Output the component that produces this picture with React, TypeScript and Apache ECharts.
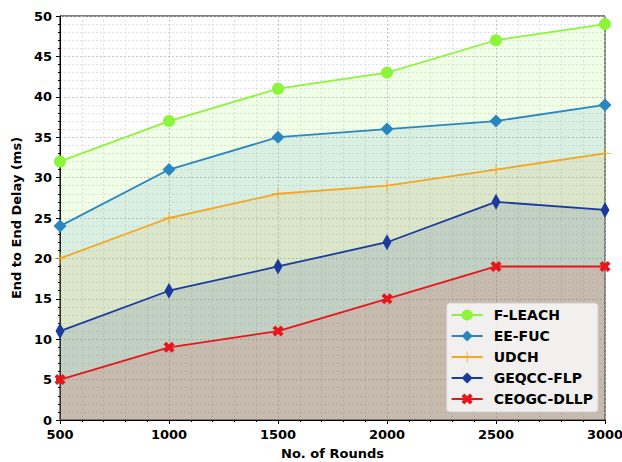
import React, { useEffect, useRef } from "react";
import * as echarts from "echarts";

const rounds = [500, 1000, 1500, 2000, 2500, 3000];
const seriesNames = ["F-LEACH", "EE-FUC", "UDCH", "GEQCC-FLP", "CEOGC-DLLP"];
const fLeach = [32, 37, 41, 43, 47, 49];
const eeFuc = [24, 31, 35, 36, 37, 39];
const udch = [20, 25, 28, 29, 31, 33];
const geqcc = [11, 16, 19, 22, 27, 26];
const ceogc = [5, 9, 11, 15, 19, 19];

const colors = ["#8cf53a", "#2a86bf", "#f5a623", "#1b3a9c", "#e8151b"];
const symbols = [
  "circle",
  "diamond",
  "path://M-0.07,-1H0.07V-0.07H1V0.07H0.07V1H-0.07V0.07H-1V-0.07H-0.07Z",
  "path://M0,-1L0.4,0L0,1L-0.4,0Z",
  "path://M-1,-0.5L-0.5,-1L0,-0.5L0.5,-1L1,-0.5L0.5,0L1,0.5L0.5,1L0,0.5L-0.5,1L-1,0.5L-0.5,0Z",
];
const symbolSizes: any[] = [12, 13, 12, [9, 16], 11];

export default function App() {
  const ref = useRef<HTMLDivElement>(null);
  useEffect(() => {
    const chart = echarts.init(ref.current!, null, { renderer: "svg" });
    const data = [fLeach, eeFuc, udch, geqcc, ceogc];
    const font = "DejaVu Sans";
    chart.setOption({
      animation: false,
      textStyle: { fontFamily: font },
      grid: {
        left: 60,
        right: 17,
        top: 16,
        bottom: 42,
        outerBoundsMode: "none",
        containLabel: false,
        show: true,
        borderColor: "#000",
        borderWidth: 1,
        backgroundColor: "#fff",
      },
      legend: {
        orient: "vertical",
        right: 24,
        bottom: 50,
        z: 50,
        itemWidth: 31,
        itemHeight: 14,
        itemGap: 7,
        padding: [5, 5, 6, 4],
        backgroundColor: "rgba(244,244,244,0.92)",
        borderColor: "#d0d0d0",
        borderWidth: 1,
        borderRadius: 3,
        textStyle: {
          fontWeight: "bold",
          fontSize: 14,
          color: "#000",
          fontFamily: font,
          padding: [0, 0, 0, 6],
        },
        data: seriesNames,
      },
      xAxis: {
        type: "value",
        min: 500,
        max: 3000,
        interval: 500,
        name: "No. of Rounds",
        nameLocation: "middle",
        nameGap: 27,
        nameTextStyle: { fontWeight: "bold", fontSize: 13, color: "#000" },
        axisLine: { lineStyle: { color: "#000" } },
        axisTick: { show: true, length: 4, lineStyle: { color: "#000" } },
        minorTick: { show: true, splitNumber: 5, length: 2, lineStyle: { color: "#000" } },
        axisLabel: {
          fontWeight: "bold",
          fontSize: 13,
          color: "#000",
          margin: 8,
          formatter: (v: number) => String(v),
        },
        splitLine: { show: true, lineStyle: { color: "#bbb", type: [2, 2], width: 0.8 } },
        minorSplitLine: { show: true, lineStyle: { color: "#ddd", type: [2, 2], width: 0.8 } },
      },
      yAxis: {
        type: "value",
        min: 0,
        max: 50,
        interval: 5,
        name: "End to End Delay (ms)",
        nameLocation: "middle",
        nameGap: 37,
        nameTextStyle: { fontWeight: "bold", fontSize: 13, color: "#000" },
        axisLine: { show: true, lineStyle: { color: "#000" } },
        axisTick: { show: true, length: 4, lineStyle: { color: "#000" } },
        minorTick: { show: true, splitNumber: 5, length: 2, lineStyle: { color: "#000" } },
        axisLabel: { fontWeight: "bold", fontSize: 13, color: "#000", margin: 8 },
        splitLine: { show: true, lineStyle: { color: "#bbb", type: [2, 2], width: 0.8 } },
        minorSplitLine: { show: true, lineStyle: { color: "#ddd", type: [2, 2], width: 0.8 } },
      },
      series: seriesNames.map((name, i) => ({
        name,
        type: "line",
        data: rounds.map((r, j) => [r, data[i][j]]),
        color: colors[i],
        symbol: symbols[i],
        symbolSize: symbolSizes[i],
        showAllSymbol: true,
        clip: false,
        lineStyle: { width: 1.8, color: colors[i] },
        itemStyle: { color: colors[i], opacity: 1 },
        areaStyle: { color: colors[i], opacity: 0.12, origin: "start" },
        z: 2 + i,
      })),
    });
    return () => chart.dispose();
  }, []);
  return (
    <div
      ref={ref}
      style={{ position: "absolute", left: 0, top: 0, width: 622, height: 462 }}
    />
  );
}
